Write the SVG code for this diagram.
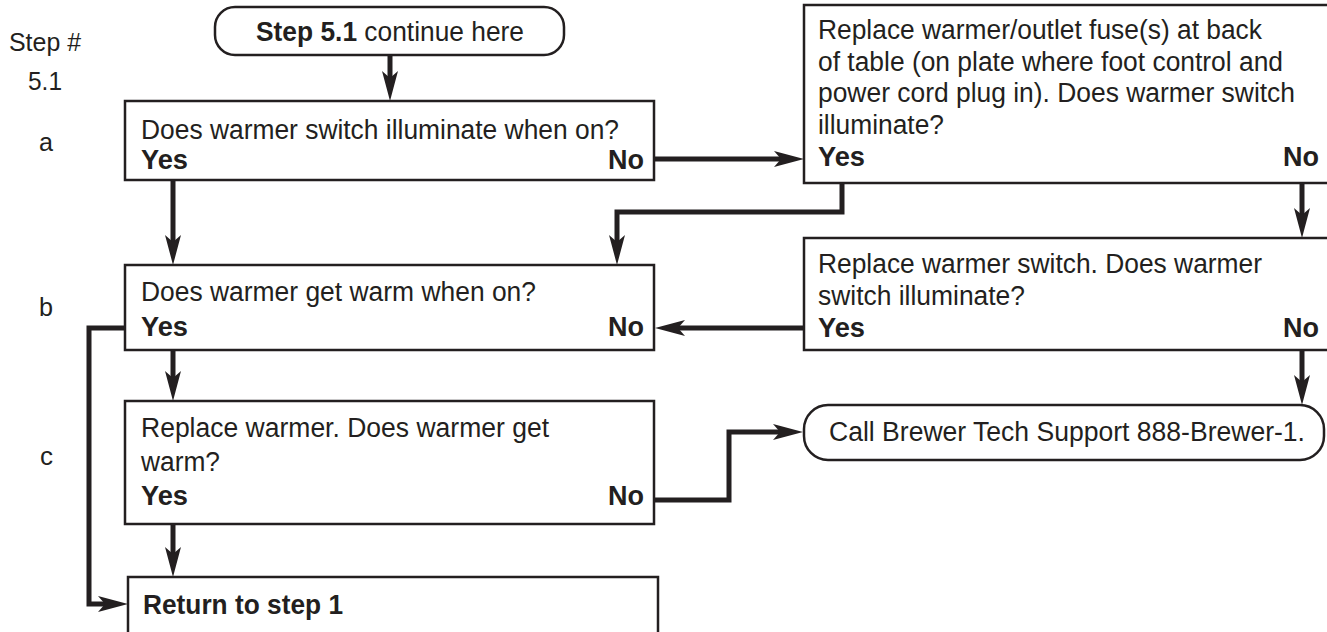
<svg xmlns="http://www.w3.org/2000/svg" width="1327" height="632" viewBox="0 0 1327 632">
<style>
.box{fill:#fff;stroke:#231f20;stroke-width:2.5}
.t{font-family:"Liberation Sans",Arial,sans-serif;font-size:27px;fill:#231f20}
.b{font-weight:bold}
.lbl{font-family:"Liberation Sans",Arial,sans-serif;font-size:26px;fill:#231f20}
.c{fill:none;stroke:#231f20;stroke-width:5;stroke-linejoin:miter}
</style>
<defs>
<marker id="ah" viewBox="0 0 30 16" refX="8" refY="8" markerWidth="30" markerHeight="16" markerUnits="userSpaceOnUse" orient="auto">
<path d="M0,0 L30,8 L0,16 L7,8 Z" fill="#231f20"/>
</marker>
</defs>
<rect width="1327" height="632" fill="#fff"/>
<g id="labels">
<text class="lbl" x="9" y="51" textLength="72" lengthAdjust="spacingAndGlyphs">Step #</text>
<text class="lbl" x="28" y="90" textLength="34" lengthAdjust="spacingAndGlyphs">5.1</text>
<text class="lbl" x="39" y="151" textLength="14" lengthAdjust="spacingAndGlyphs">a</text>
<text class="lbl" x="39" y="316" textLength="14" lengthAdjust="spacingAndGlyphs">b</text>
<text class="lbl" x="40" y="465" textLength="13" lengthAdjust="spacingAndGlyphs">c</text>
</g>
<g id="connectors">
<path class="c" marker-end="url(#ah)" d="M390,55 V79"/>
<path class="c" marker-end="url(#ah)" d="M173,180 V243"/>
<path class="c" marker-end="url(#ah)" d="M655,159 H782"/>
<path class="c" marker-end="url(#ah)" d="M842,183 V212 H617 V243"/>
<path class="c" marker-end="url(#ah)" d="M1302,183 V216"/>
<path class="c" marker-end="url(#ah)" d="M804,328 H677"/>
<path class="c" marker-end="url(#ah)" d="M1302,350 V383"/>
<path class="c" marker-end="url(#ah)" d="M125,328 H89 V604 H106"/>
<path class="c" marker-end="url(#ah)" d="M173,350 V379"/>
<path class="c" marker-end="url(#ah)" d="M655,500 H729 V432 H781"/>
<path class="c" marker-end="url(#ah)" d="M173,524 V555"/>
</g>
<g id="start">
<rect class="box" x="215" y="7" width="349" height="48" rx="20" ry="20"/>
<text class="t" x="256" y="41" textLength="268" lengthAdjust="spacingAndGlyphs"><tspan class="b">Step 5.1</tspan> continue here</text>
</g>
<g id="stepA">
<rect class="box" x="125" y="101" width="529" height="79"/>
<text class="t" x="141" y="139" textLength="478" lengthAdjust="spacingAndGlyphs">Does warmer switch illuminate when on?</text>
<text class="t b" x="141" y="169" textLength="47" lengthAdjust="spacingAndGlyphs">Yes</text>
<text class="t b" x="608" y="169" textLength="36" lengthAdjust="spacingAndGlyphs">No</text>
</g>
<g id="fuse">
<rect class="box" x="804" y="5" width="540" height="178"/>
<text class="t" x="818" y="39" textLength="444" lengthAdjust="spacingAndGlyphs">Replace warmer/outlet fuse(s) at back</text>
<text class="t" x="818" y="71" textLength="465" lengthAdjust="spacingAndGlyphs">of table (on plate where foot control and</text>
<text class="t" x="818" y="102" textLength="477" lengthAdjust="spacingAndGlyphs">power cord plug in). Does warmer switch</text>
<text class="t" x="818" y="134" textLength="126" lengthAdjust="spacingAndGlyphs">illuminate?</text>
<text class="t b" x="818" y="166" textLength="47" lengthAdjust="spacingAndGlyphs">Yes</text>
<text class="t b" x="1283" y="166" textLength="36" lengthAdjust="spacingAndGlyphs">No</text>
</g>
<g id="stepB">
<rect class="box" x="125" y="265" width="529" height="85"/>
<text class="t" x="141" y="301" textLength="395" lengthAdjust="spacingAndGlyphs">Does warmer get warm when on?</text>
<text class="t b" x="141" y="336" textLength="47" lengthAdjust="spacingAndGlyphs">Yes</text>
<text class="t b" x="608" y="336" textLength="36" lengthAdjust="spacingAndGlyphs">No</text>
</g>
<g id="switch">
<rect class="box" x="804" y="238" width="540" height="112"/>
<text class="t" x="818" y="273" textLength="444" lengthAdjust="spacingAndGlyphs">Replace warmer switch. Does warmer</text>
<text class="t" x="818" y="305" textLength="207" lengthAdjust="spacingAndGlyphs">switch illuminate?</text>
<text class="t b" x="818" y="337" textLength="47" lengthAdjust="spacingAndGlyphs">Yes</text>
<text class="t b" x="1283" y="337" textLength="36" lengthAdjust="spacingAndGlyphs">No</text>
</g>
<g id="stepC">
<rect class="box" x="125" y="401" width="529" height="123"/>
<text class="t" x="141" y="437" textLength="408" lengthAdjust="spacingAndGlyphs">Replace warmer. Does warmer get</text>
<text class="t" x="141" y="471" textLength="79" lengthAdjust="spacingAndGlyphs">warm?</text>
<text class="t b" x="141" y="505" textLength="47" lengthAdjust="spacingAndGlyphs">Yes</text>
<text class="t b" x="608" y="505" textLength="36" lengthAdjust="spacingAndGlyphs">No</text>
</g>
<g id="call">
<rect class="box" x="804" y="405" width="520" height="55" rx="24" ry="24"/>
<text class="t" x="829" y="441" textLength="476" lengthAdjust="spacingAndGlyphs">Call Brewer Tech Support 888-Brewer-1.</text>
</g>
<g id="return">
<rect class="box" x="128" y="577" width="530" height="70"/>
<text class="t b" x="143" y="614" textLength="200" lengthAdjust="spacingAndGlyphs">Return to step 1</text>
</g>
</svg>
